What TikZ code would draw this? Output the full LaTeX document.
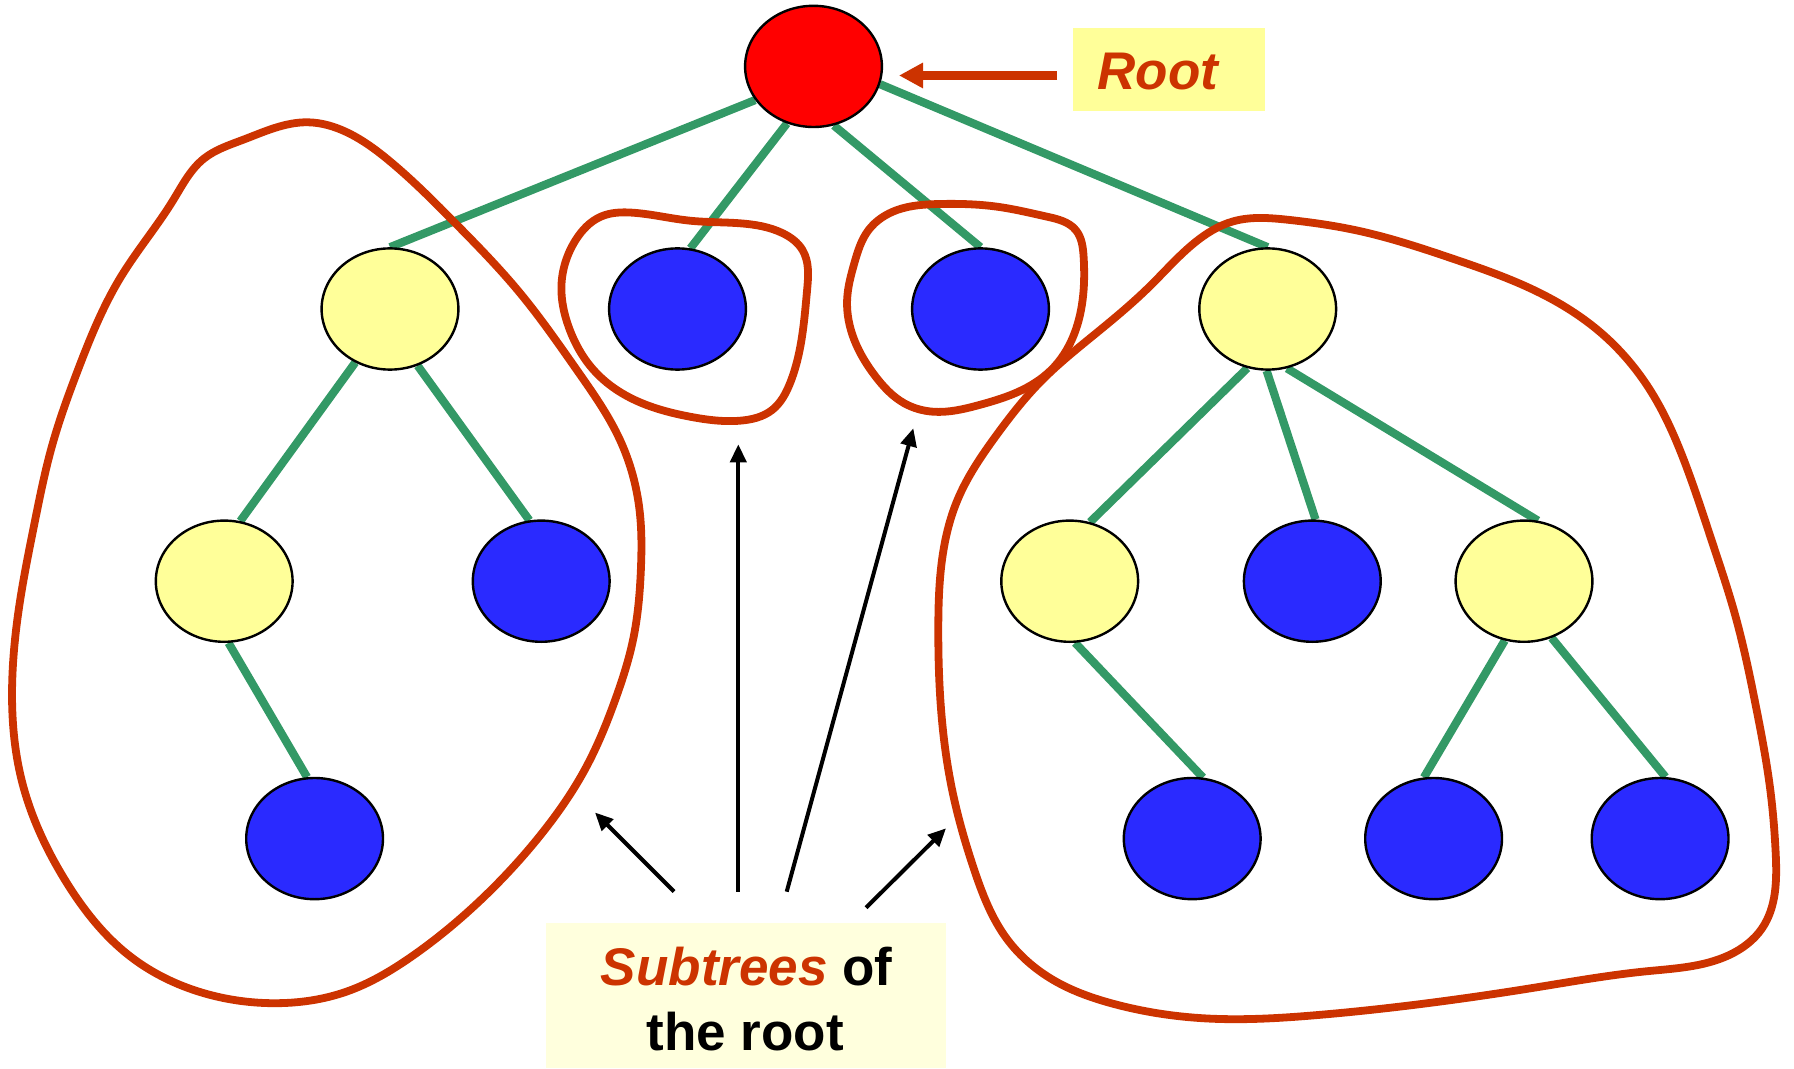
\documentclass[tikz,border=0pt]{standalone}
\usepackage{fontspec}
\setmainfont{Liberation Sans}
\usetikzlibrary{arrows.meta,backgrounds,shapes.geometric,hobby}
\definecolor{ored}{HTML}{CC3300}
\definecolor{nodeyellow}{HTML}{FFFF99}
\definecolor{nodeblue}{HTML}{2A2AFF}
\definecolor{edgegreen}{HTML}{339966}
\definecolor{lightbox}{HTML}{FFFFDD}
\begin{document}
\begin{tikzpicture}[x=0.5pt,y=-0.5pt,
  tnode/.style={ellipse, draw=black, line width=1.2pt, minimum width=68.4pt, minimum height=60.6pt, inner sep=0pt},
  yel/.style={tnode, fill=nodeyellow},
  blu/.style={tnode, fill=nodeblue},
  rootnode/.style={tnode, fill=red},
  treeedge/.style={edgegreen, line width=4.1pt},
  blob/.style={ored, line width=3.9pt, line join=round, use Hobby shortcut, closed=true},
  blackarrow/.style={black, line width=2pt, -{Triangle[length=9pt,width=8pt]}},
  redarrow/.style={ored, line width=4.2pt, -{Triangle[length=12pt,width=12pt]}},
  lbl/.style={font=\fontsize{26.5}{32}\selectfont\bfseries, inner sep=0pt, anchor=base}
]
\useasboundingbox (0,0) rectangle (1794,1069);

% nodes
\node[rootnode] (root) at (813.5,66.4) {};
\node[yel] (A) at (390,309) {};
\node[blu] (B) at (677.5,309) {};
\node[blu] (C) at (980.5,309) {};
\node[yel] (D) at (1267.7,309) {};
\node[yel] (E) at (224.2,581.2) {};
\node[blu] (F) at (541.2,581.2) {};
\node[yel] (G) at (1069.7,581.2) {};
\node[blu] (H) at (1312.3,581.2) {};
\node[yel] (I) at (1524,581.2) {};
\node[blu] (J) at (314.6,838.6) {};
\node[blu] (K) at (1192.2,838.6) {};
\node[blu] (L) at (1433.6,838.6) {};
\node[blu] (M) at (1660.1,838.6) {};

% edges
\begin{pgfonlayer}{background}
\draw[treeedge] (root.210) -- (A.north);
\draw[treeedge] (root.245) -- (B.78);
\draw[treeedge] (root.289) -- (C.north);
\draw[treeedge] (root.345) -- (D.north);
\draw[treeedge] (A.237) -- (E.75);
\draw[treeedge] (A.296) -- (F.101);
\draw[treeedge] (E.274) -- (J.97);
\draw[treeedge] (D.251) -- (G.71);
\draw[treeedge] (D.269) -- (H.87);
\draw[treeedge] (D.288) -- (I.77);
\draw[treeedge] (G.275) -- (K.80);
\draw[treeedge] (I.252) -- (L.99);
\draw[treeedge] (I.296) -- (M.85);
\end{pgfonlayer}

% subtree outlines
\draw[blob] (203.8,158.7) .. (242.8,139.9) .. (307.9,122.3) .. (346.9,132.3) .. (390.3,161.6)
 .. (455.3,223.2) .. (520.4,293.5) .. (576.7,369.8) .. (620.1,440.2) .. (639.6,510.6)
 .. (640.9,569.2) .. (633.1,639.6) .. (615.8,698.2) .. (585.4,768.6) .. (542.1,833.1)
 .. (477,903.5) .. (412,956.3) .. (346.9,991.5) .. (273.2,1003.2) .. (208.2,994.4)
 .. (130.1,956.3) .. (65,880) .. (21.7,780.4) .. (12.1,686.5) .. (19.5,604.4)
 .. (34.7,522.3) .. (52,446) .. (78,369.8) .. (121.4,276) .. (173.5,199.7);
\draw[blob] (561.4,286.7) .. (575.7,240) .. (600.7,216.7) .. (632.9,212.7) .. (690,220.7)
 .. (740,223.3) .. (782.9,233.3) .. (802.5,250) .. (807.1,290) .. (802.5,333.3)
 .. (790,383.3) .. (772.1,410) .. (740,420.7) .. (690,416.7) .. (622.1,393.3)
 .. (593.6,370) .. (568.6,326.7);
\draw[blob] (847.1,300) .. (854.3,263.3) .. (868.6,230) .. (897.1,210) .. (940,204)
 .. (997.1,206.7) .. (1047.1,216.7) .. (1075.7,230) .. (1083.6,256.7) .. (1083.6,290)
 .. (1075.7,330) .. (1054.3,366.7) .. (1022.1,390) .. (979.3,405) .. (932.9,411.7)
 .. (904.3,403.3) .. (875.7,376.7) .. (854.3,340);
\draw[blob] (1233,221.4) .. (1288.1,219.8) .. (1359.8,231.1) .. (1453.4,258.9) .. (1536.1,291.1)
 .. (1602.2,333.9) .. (1651.8,392.8) .. (1684.8,462.5) .. (1712.4,542.8) .. (1734.4,612.4)
 .. (1756.4,708.8) .. (1770.2,789.2) .. (1775.7,853.5) .. (1762,928.4) .. (1728.9,955.2)
 .. (1646.3,971.3) .. (1536.1,987.4) .. (1425.9,1003.4) .. (1315.7,1015.2) .. (1205.5,1018.4)
 .. (1111.8,1003.4) .. (1056.7,982) .. (1007.1,939.2) .. (974.1,869.5) .. (952,789.2)
 .. (941,708.8) .. (938.3,628.5) .. (943.8,548.2) .. (957.5,499.9) .. (996.1,435.7)
 .. (1040.2,382.1) .. (1095.3,333.9) .. (1150.4,285.7) .. (1194.5,242.8);

% Root label
\node[fill=nodeyellow, minimum width=96.2pt, minimum height=41.75pt, inner sep=0pt] (rootbox) at (1169.2,69.3) {};
\node[lbl, text=ored] (roottxt) at (1158,90) {\itshape Root};
\coordinate (rootarrowtail) at (1057,75.5);
\coordinate (rootarrowtip) at (899,75.5);
\draw[redarrow] (rootarrowtail) -- (rootarrowtip);

% Subtrees label
\node[fill=lightbox, minimum width=200.3pt, minimum height=72.5pt, inner sep=0pt] (subbox) at (746,995.8) {};
\node[lbl] (subtxt1) at (746.7,985.7) {\textcolor{ored}{\itshape Subtrees} of};
\node[lbl] (subtxt2) at (745.3,1050) {the root};

% black arrows
\coordinate (t1) at (674,891.5);   \coordinate (h1) at (595,812.5);
\coordinate (t2) at (738.3,891.7); \coordinate (h2) at (738.3,444.3);
\coordinate (t3) at (786.7,891.7); \coordinate (h3) at (913.3,428.3);
\coordinate (t4) at (866,907.7);   \coordinate (h4) at (946,828.3);
\draw[blackarrow] (t1) -- (h1);
\draw[blackarrow] (t2) -- (h2);
\draw[blackarrow] (t3) -- (h3);
\draw[blackarrow] (t4) -- (h4);
\end{tikzpicture}
\end{document}
